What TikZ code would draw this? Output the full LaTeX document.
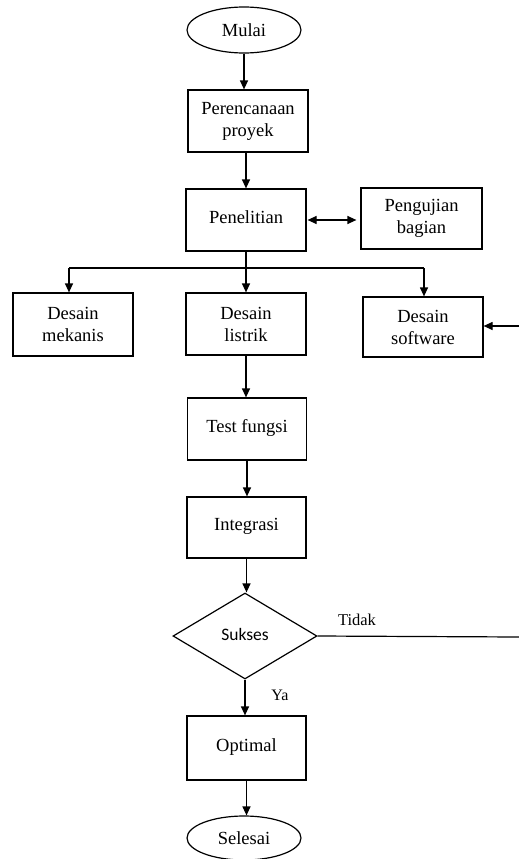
\documentclass[tikz,border=0pt]{standalone}
\usepackage{fontspec}
\setmainfont{Liberation Serif}
\newfontfamily\sukfont{Carlito}
\usetikzlibrary{shapes.geometric,arrows.meta}
\begin{document}
\begin{tikzpicture}[x=1pt,y=-1pt,
  box/.style={draw,line width=1.2pt,minimum width=120pt,minimum height=62pt,inner sep=0pt,align=center,font=\fontsize{18.5}{22}\selectfont},
  oval/.style={draw,line width=1.2pt,ellipse,minimum width=114pt,minimum height=46pt,inner sep=0pt,font=\fontsize{18.5}{22}\selectfont},
  arr/.style={line width=1.2pt,-{Triangle[length=9pt,width=8pt]}},
  ln/.style={line width=1.2pt}]
\useasboundingbox (0,0) rectangle (519,859);
\node[oval] (mulai) at (244,30) {Mulai};
\node[box] (plan) at (248,121) {Perencanaan\\proyek};
\node[box] (penel) at (246,220) {\raisebox{6pt}{Penelitian}};
\node[box,minimum width=121pt,minimum height=61pt] (uji) at (421.5,218.5) {Pengujian\\bagian};
\node[box,minimum height=63pt] (mek) at (73,324.5) {Desain\\mekanis};
\node[box] (lis) at (246,324) {Desain\\listrik};
\node[box,minimum height=60pt] (soft) at (423,327) {Desain\\software};
\node[box,minimum width=119pt] (test) at (247,429) {\raisebox{6pt}{Test fungsi}};
\node[box,minimum width=119pt,minimum height=61pt] (integ) at (246.5,527.5) {\raisebox{6pt}{Integrasi}};
\node[draw,line width=1.2pt,diamond,minimum width=144pt,minimum height=86pt,inner sep=0pt,font=\sukfont\fontsize{17.5}{20}\selectfont] (suk) at (245,636) {\raisebox{4pt}{Sukses}};
\node[box,minimum width=119pt,minimum height=64pt] (opt) at (246.5,748) {\raisebox{6pt}{Optimal}};
\node[oval,minimum height=44pt] (sel) at (244,838) {Selesai};
\coordinate (bl) at (69,268);
\coordinate (br) at (424,268);
\coordinate (rin) at (519,326);
\coordinate (rout) at (519,637);
\draw[arr] (mulai.south) -- (mulai.south|-plan.north);
\draw[arr] (penel.north|-plan.south) -- (penel.north);
\draw[line width=1.2pt,{Triangle[length=9pt,width=8pt]}-{Triangle[length=9pt,width=8pt]}] ([xshift=1pt]penel.east) -- ([xshift=-4pt]penel.east-|uji.west);
\draw[arr] (penel.south) -- (lis.north);
\draw[ln] (bl) -- (br);
\draw[arr] (bl) -- (bl|-mek.north);
\draw[arr] (br) -- (br|-soft.north);
\draw[arr] (rin) -- (rin-|soft.east);
\draw[arr] (lis.south) -- (lis.south|-test.north);
\draw[arr] (test.south) -- (test.south|-integ.north);
\draw[arr] (integ.south) -- (integ.south|-suk.north);
\draw[arr] (suk.south) -- (suk.south|-opt.north);
\draw[arr] (opt.south) -- (opt.south|-sel.north);
\draw[ln] (suk.east) -- (rout);
\node[font=\fontsize{16.5}{18}\selectfont] (tidak) at (357,620) {Tidak};
\node[font=\fontsize{16}{18}\selectfont] (ya) at (280,695) {Ya};
\end{tikzpicture}
\end{document}
